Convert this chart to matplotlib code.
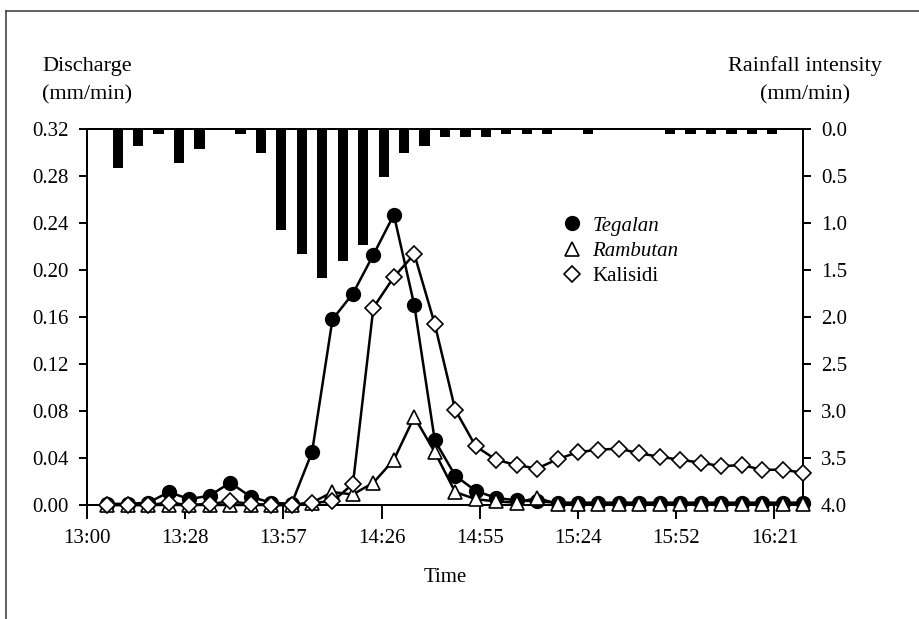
import matplotlib
matplotlib.use("Agg")
import matplotlib.pyplot as plt
from matplotlib.lines import Line2D
import numpy as np

plt.rcParams['font.family'] = ['Liberation Serif', 'DejaVu Serif']

# ---------------- data ----------------
obs_times = ["13:06", "13:12", "13:18", "13:24", "13:30", "13:36", "13:42", "13:48", "13:54",
             "14:00", "14:06", "14:12", "14:18", "14:24", "14:30", "14:36", "14:42", "14:48", "14:54",
             "15:00", "15:06", "15:12", "15:18", "15:24", "15:30", "15:36", "15:42", "15:48", "15:54",
             "16:00", "16:06", "16:12", "16:18", "16:24", "16:30"]

tegalan = [0.001, 0.001, 0.002, 0.011, 0.005, 0.008, 0.019, 0.007, 0.002, 0.001,
           0.045, 0.158, 0.180, 0.213, 0.247, 0.170, 0.055, 0.025, 0.012, 0.006,
           0.004, 0.003, 0.002, 0.002, 0.002, 0.002, 0.002, 0.002, 0.002, 0.002,
           0.002, 0.002, 0.002, 0.002, 0.002]

rambutan = [0.000, 0.000, 0.000, 0.000, 0.000, 0.000, 0.000, 0.000, 0.000, 0.000,
            0.002, 0.011, 0.009, 0.019, 0.0385, 0.075, 0.045, 0.011, 0.005, 0.003,
            0.002, 0.006, 0.001, 0.001, 0.001, 0.001, 0.001, 0.001, 0.001, 0.001,
            0.001, 0.001, 0.001, 0.001, 0.001]

kalisidi = [0.000, 0.000, 0.000, 0.002, 0.000, 0.001, 0.003, 0.001, 0.000, 0.000,
            0.002, 0.003, 0.018, 0.168, 0.194, 0.2135, 0.154, 0.081, 0.050, 0.0385,
            0.034, 0.031, 0.039, 0.045, 0.047, 0.048, 0.044, 0.041, 0.0385, 0.036,
            0.033, 0.034, 0.030, 0.030, 0.0275]

rain_times = ["13:09", "13:15", "13:21", "13:27", "13:33", "13:39", "13:45", "13:51", "13:57",
              "14:03", "14:09", "14:15", "14:21", "14:27", "14:33", "14:39", "14:45", "14:51", "14:57",
              "15:03", "15:09", "15:15", "15:21", "15:27", "15:33", "15:39", "15:45", "15:51", "15:57",
              "16:03", "16:09", "16:15", "16:21"]
rainfall = [0.41, 0.18, 0.05, 0.36, 0.21, 0.00, 0.05, 0.25, 1.07, 1.33,
            1.58, 1.40, 1.23, 0.51, 0.25, 0.18, 0.08, 0.08, 0.08, 0.05,
            0.05, 0.05, 0.00, 0.05, 0.00, 0.00, 0.00, 0.05, 0.05, 0.05,
            0.05, 0.05, 0.05]

x_tick_minutes = [0, 28.8, 57.6, 86.4, 115.2, 144.0, 172.8, 201.6]
x_tick_labels = ["13:00", "13:28", "13:57", "14:26", "14:55", "15:24", "15:52", "16:21"]
discharge_ticks = [0.00, 0.04, 0.08, 0.12, 0.16, 0.20, 0.24, 0.28, 0.32]
rain_ticks = [0.0, 0.5, 1.0, 1.5, 2.0, 2.5, 3.0, 3.5, 4.0]


def to_min(s):
    h, m = s.split(":")
    return (int(h) - 13) * 60 + int(m)


t_obs = np.array([to_min(s) for s in obs_times])
t_rain = np.array([to_min(s) for s in rain_times])

# ---------------- figure ----------------
W, H = 919, 619
fig = plt.figure(figsize=(W / 100, H / 100), dpi=100, facecolor='white')

# outer frame (partially visible)
fig.add_artist(Line2D([6 / W, 1.0], [1 - 11 / H, 1 - 11 / H], color='#444444', lw=1.2,
                      transform=fig.transFigure))
fig.add_artist(Line2D([6 / W, 6 / W], [1 - 11 / H, 0.0], color='#444444', lw=1.2,
                      transform=fig.transFigure))

L, R, T, B = 87, 803, 129, 505
ax = fig.add_axes([L / W, 1 - B / H, (R - L) / W, (B - T) / H])
ax2 = ax.twinx()
ax.set_zorder(ax2.get_zorder() + 1)
ax.patch.set_visible(False)

# rainfall bars (inverted right axis)
ax2.bar(t_rain, rainfall, width=3.0, color='black', edgecolor='black', linewidth=0)
ax2.set_ylim(4.0, 0.0)
ax2.set_yticks(rain_ticks)
ax2.set_yticklabels([f"{v:.1f}" for v in rain_ticks])

# discharge series
lw = 1.8
mew = 1.2
ax.plot(t_obs, tegalan, color='black', lw=lw, marker='o', ms=9.8, mfc='black', mec='black',
        mew=mew, clip_on=False, zorder=3)
ax.plot(t_obs, rambutan, color='black', lw=lw, marker='^', ms=10, mfc='white', mec='black',
        mew=mew, clip_on=False, zorder=4)
ax.plot(t_obs, kalisidi, color='black', lw=lw, marker='D', ms=8.0, mfc='white', mec='black',
        mew=mew, clip_on=False, zorder=5)

ax.set_xlim(0, 210)
ax.set_ylim(0, 0.32)
ax.set_yticks(discharge_ticks)
ax.set_yticklabels([f"{v:.2f}" for v in discharge_ticks])
ax.set_xticks(x_tick_minutes)
ax.set_xticklabels(x_tick_labels)

for a in (ax, ax2):
    for s in a.spines.values():
        s.set_linewidth(1.4)
        s.set_color('black')

ax.tick_params(axis='y', direction='out', length=6, width=1.4, pad=7, labelsize=15)
ax.tick_params(axis='x', direction='out', length=10, width=1.4, pad=7.5, labelsize=15)
ax2.tick_params(axis='y', direction='out', length=6, width=1.4, pad=7, labelsize=15)

ax.set_xlabel("Time", fontsize=15, labelpad=14)

# axis titles
fs_t = 16
fig.text(87.5 / W, 1 - 71.5 / H, "Discharge", ha='center', va='baseline', fontsize=fs_t)
fig.text(87.5 / W, 1 - 99.5 / H, "(mm/min)", ha='center', va='baseline', fontsize=fs_t)
fig.text(805 / W, 1 - 71.5 / H, "Rainfall intensity", ha='center', va='baseline', fontsize=fs_t)
fig.text(805 / W, 1 - 99.5 / H, "(mm/min)", ha='center', va='baseline', fontsize=fs_t)

# legend
handles = [
    Line2D([], [], ls='none', marker='o', ms=9.8, mfc='black', mec='black', mew=mew),
    Line2D([], [], ls='none', marker='^', ms=10, mfc='white', mec='black', mew=mew),
    Line2D([], [], ls='none', marker='D', ms=8.0, mfc='white', mec='black', mew=mew),
]
leg = ax.legend(handles, ["Tegalan", "Rambutan", "Kalisidi"], loc='upper left',
                bbox_to_anchor=(562 / W, 1 - 216 / H), bbox_transform=fig.transFigure,
                frameon=False, fontsize=15, handlelength=1.0, handletextpad=0.45,
                labelspacing=0.28, borderpad=0, borderaxespad=0)
leg.get_texts()[0].set_fontstyle('italic')
leg.get_texts()[1].set_fontstyle('italic')

fig.savefig("out.png", dpi=100, facecolor='white')
